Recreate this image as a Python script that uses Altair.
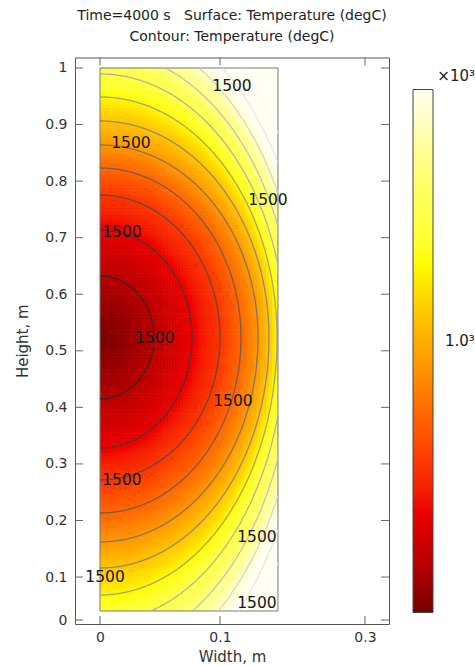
import altair as alt
import numpy as np
import pandas as pd

# ---------------- values ----------------
x_tick_pos = [0.0, 0.1, 0.2208]
x_tick_lab = ["0", "0.1", "0.3"]
y_tick_pos = [0.024, 0.1, 0.2, 0.3, 0.4, 0.5, 0.6, 0.7, 0.8, 0.9, 1.0]
y_tick_lab = ["0", "0.1", "0.2", "0.3", "0.4", "0.5", "0.6", "0.7", "0.8", "0.9", "1"]

rect_x = [0.0, 0.1483]
rect_y = [0.040, 1.0]

center_y = 0.5235
cross_right = [0.045, 0.0767, 0.1, 0.1175, 0.1317, 0.1408, 0.1475]
cross_up = [0.6322, 0.7136, 0.7755, 0.8232, 0.8639, 0.9063, 0.9487, 0.9894]
cross_down = [0.4148, 0.3281, 0.2716, 0.2132, 0.1620, 0.1160, 0.0683]
contour_levels = [1, 2, 3, 4, 5, 6, 7, 8, 9, 10, 11, 12]
level_top = 10.6

cbar_pos = [0.0, 0.1, 0.2, 0.3, 0.4, 0.5, 0.6, 0.67, 0.8, 0.9, 1.0]
cbar_col = ["#760000", "#bc0000", "#f00000", "#ff3c00", "#ff7000", "#ffa500",
            "#ffd400", "#ffff00", "#ffff5c", "#ffffa0", "#fffff2"]
cbar_label_value = 5.5
cbar_label_text = "1.0³"

lab_x = [0.0458, 0.1108, 0.0183, 0.0042, 0.1308, 0.1308, 0.1400, 0.0258, 0.0183, 0.1100]
lab_y = [0.5226, 0.4112, 0.2716, 0.1001, 0.0541, 0.1708, 0.7666, 0.8674, 0.7100, 0.9682]
lab_txt = ["1500"] * 10

title_lines = ["Time=4000 s\u00a0\u00a0\u00a0Surface: Temperature (degC)", "Contour: Temperature (degC)"]

# ---------------- semi-axes per contour index ----------------
def axis_fn(dists):
    d = np.array([0.0] + list(dists), float)
    k = np.arange(len(d), dtype=float)
    slope = (d[-1] - d[-2]) / (k[-1] - k[-2])

    def f(kk):
        kk = np.atleast_1d(np.asarray(kk, float))
        out = np.interp(kk, k, d)
        over = kk > k[-1]
        out[over] = d[-1] + (kk[over] - k[-1]) * slope
        return out
    return f

ax_r = axis_fn(cross_right)
ax_u = axis_fn([c - center_y for c in cross_up])
ax_d = axis_fn([center_y - c for c in cross_down])

def rho(xv, yv):
    dyv = np.abs(yv - center_y)
    up = yv >= center_y
    lo = np.full(xv.shape, 1e-4)
    hi = np.full(xv.shape, 30.0)
    for _ in range(40):
        mid = (lo + hi) / 2
        b = np.where(up, ax_u(mid), ax_d(mid))
        F = (xv / ax_r(mid)) ** 2 + (dyv / b) ** 2
        outside = F > 1
        lo = np.where(outside, mid, lo)
        hi = np.where(outside, hi, mid)
    return (lo + hi) / 2

nx, ny = 60, 190
dx = (rect_x[1] - rect_x[0]) / nx
dy = (rect_y[1] - rect_y[0]) / ny
xi = rect_x[0] + dx * np.arange(nx)
yi = rect_y[0] + dy * np.arange(ny)
XX, YY = np.meshgrid(xi, yi)
XX = XX.ravel(); YY = YY.ravel()
V = rho(XX + dx / 2, YY + dy / 2)
heat_df = pd.DataFrame({
    "x": np.round(XX, 5), "x2": np.round(np.minimum(XX + dx * 1.2, rect_x[1]), 5),
    "y": np.round(YY, 5), "y2": np.round(np.minimum(YY + dy * 1.2, rect_y[1]), 5),
    "v": np.round(V, 3)})

rows = []
th = np.linspace(np.pi / 2, -np.pi / 2, 1400)
for k in contour_levels:
    a = ax_r(k)[0]
    bu = ax_u(k)[0]
    bd = ax_d(k)[0]
    xs_ = a * np.cos(th)
    ys_ = np.where(th >= 0, center_y + bu * np.sin(th), center_y + bd * np.sin(th))
    inside = (xs_ <= rect_x[1]) & (ys_ >= rect_y[0]) & (ys_ <= rect_y[1])
    seg = 0
    prev = False
    for i in range(len(th)):
        if inside[i]:
            if not prev:
                seg += 1
            rows.append({"x": round(float(xs_[i]), 5), "y": round(float(ys_[i]), 5),
                         "k": k, "seg": f"{k}-{seg}", "i": i})
        prev = bool(inside[i])
cont_df = pd.DataFrame(rows)

lab_df = pd.DataFrame({"x": lab_x, "y": lab_y, "t": lab_txt})
rect_df = pd.DataFrame({"x": [rect_x[0]], "x2": [rect_x[1]], "y": [rect_y[0]], "y2": [rect_y[1]]})
xt_df = pd.DataFrame({"p": x_tick_pos})
yt_df = pd.DataFrame({"p": y_tick_pos})

# ---------------- chart ----------------
W, H = 314, 566.5
FONT = "DejaVu Sans"
xs = alt.Scale(domain=[-0.02083, 0.24083], nice=False, zero=False)
ys = alt.Scale(domain=[0.01697, 1.01856], nice=False, zero=False)

def label_expr(pos, lab):
    parts = [f"abs(datum.value - {p}) < 1e-6 ? '{l}'" for p, l in zip(pos, lab)]
    return " : ".join(parts) + " : ''"

x_axis = alt.Axis(values=x_tick_pos, labelExpr=label_expr(x_tick_pos, x_tick_lab),
                  title="Width, m", labelPadding=6, titlePadding=5)
y_axis = alt.Axis(values=y_tick_pos, labelExpr=label_expr(y_tick_pos, y_tick_lab),
                  title="Height, m", labelPadding=8, titlePadding=14)

heat = alt.Chart(heat_df).mark_rect(strokeWidth=0).encode(
    x=alt.X("x:Q", scale=xs, axis=x_axis),
    x2="x2:Q",
    y=alt.Y("y:Q", scale=ys, axis=y_axis),
    y2="y2:Q",
    color=alt.Color("v:Q",
                    scale=alt.Scale(domain=[p * level_top for p in cbar_pos], range=cbar_col,
                                    clamp=True),
                    legend=alt.Legend(orient="none", direction="vertical",
                                      legendX=338, legendY=11,
                                      title="×10³", titleFontSize=15, titleFont=FONT,
                                      titleFontWeight="normal", titleColor="#222",
                                      titleAnchor="end", titlePadding=6,
                                      gradientLength=523, gradientThickness=20,
                                      gradientStrokeColor="#444", gradientStrokeWidth=1,
                                      values=[cbar_label_value],
                                      labelExpr=f"'{cbar_label_text}'",
                                      labelFont=FONT, labelFontSize=15, labelColor="#222",
                                      labelOffset=12, padding=0)),
)

outline = alt.Chart(rect_df).mark_rect(fillOpacity=0, stroke="#777", strokeWidth=1).encode(
    x=alt.X("x:Q", scale=xs), x2="x2:Q", y=alt.Y("y:Q", scale=ys), y2="y2:Q")

contours = alt.Chart(cont_df).mark_line(strokeWidth=1.3, opacity=0.85).encode(
    x=alt.X("x:Q", scale=xs), y=alt.Y("y:Q", scale=ys),
    detail="seg:N", order="i:Q",
    stroke=alt.Stroke("k:Q", scale=alt.Scale(domain=[1, 11], range=["#2a2a2a", "#e2e2e2"]),
                      legend=None))

labels = alt.Chart(lab_df).mark_text(font=FONT, fontSize=15.5, color="#151515").encode(
    x=alt.X("x:Q", scale=xs), y=alt.Y("y:Q", scale=ys), text="t:N")

tick_col = "#666"
top_ticks = alt.Chart(xt_df).mark_rule(color=tick_col).encode(
    x=alt.X("p:Q", scale=xs), y=alt.value(0), y2=alt.value(8))
bot_ticks = alt.Chart(xt_df).mark_rule(color=tick_col).encode(
    x=alt.X("p:Q", scale=xs), y=alt.value(H), y2=alt.value(H - 8))
left_ticks = alt.Chart(yt_df).mark_rule(color=tick_col).encode(
    y=alt.Y("p:Q", scale=ys), x=alt.value(0), x2=alt.value(8))
right_ticks = alt.Chart(yt_df).mark_rule(color=tick_col).encode(
    y=alt.Y("p:Q", scale=ys), x=alt.value(W), x2=alt.value(W - 8))

chart = alt.layer(heat, outline, contours, labels, top_ticks, bot_ticks, left_ticks, right_ticks).properties(
    width=W, height=H,
    title=alt.TitleParams(title_lines,
                          font=FONT, fontSize=14, fontWeight="normal", color="#222",
                          anchor="middle", offset=13, lineHeight=21),
    autosize=alt.AutoSizeParams(type="none"),
    padding={"left": 75, "top": 57.5, "right": 86, "bottom": 41},
    background="white",
).configure_view(stroke="#555", strokeWidth=1).configure_axis(
    domain=False, ticks=False, tickSize=0, grid=False,
    labelFont=FONT, labelFontSize=14, labelColor="#333",
    titleFont=FONT, titleFontSize=15, titleFontWeight="normal", titleColor="#333",
)

chart.save("out.html", embed_options={"renderer": "svg", "actions": False})
